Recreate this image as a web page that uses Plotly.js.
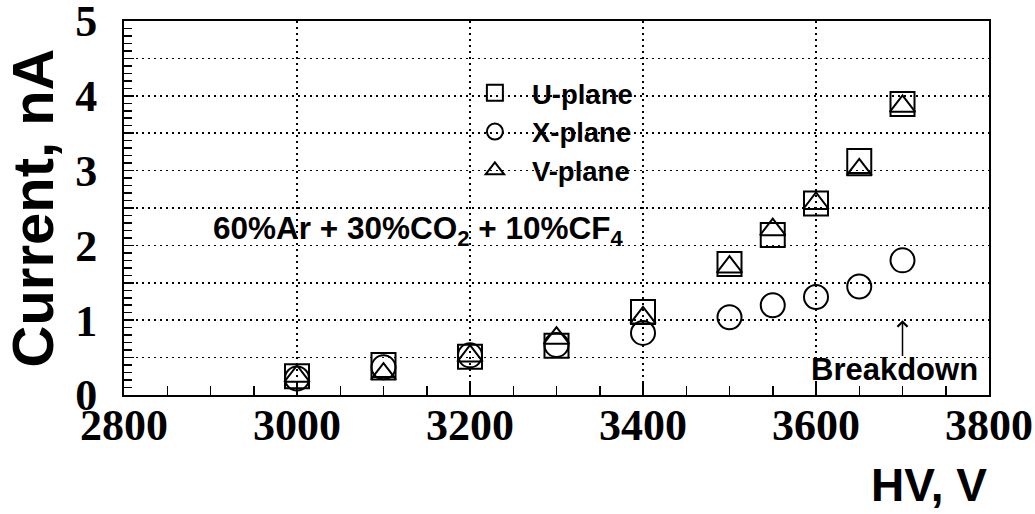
<!DOCTYPE html>
<html>
<head>
<meta charset="utf-8">
<script src="https://cdn.plot.ly/plotly-3.0.1.min.js"></script>
<style>html,body{margin:0;padding:0;background:#fff;}#plot{width:1035px;height:514px;}</style>
</head>
<body>
<div id="plot"></div>
<script>
// Data
const hv = [3000, 3100, 3200, 3300, 3400, 3500, 3550, 3600, 3650, 3700];
const uPlane = [0.25, 0.40, 0.51, 0.66, 1.11, 1.75, 2.14, 2.56, 3.13, 3.89];
const xPlane = [0.22, 0.37, 0.53, 0.67, 0.83, 1.04, 1.20, 1.31, 1.45, 1.80];
const vPlane = [0.25, 0.28, 0.52, 0.76, 1.03, 1.71, 2.21, 2.56, 3.01, 3.86];
const seriesNames = ["U-plane", "X-plane", "V-plane"];
const yTickVals = [0, 0.5, 1, 1.5, 2, 2.5, 3, 3.5, 4, 4.5, 5];
const yTickText = ["0", "", "1", "", "2", "", "3", "", "4", "", "5"];
const xTickVals = [2800, 3000, 3200, 3400, 3600, 3800];
const gasLabel = "60%Ar + 30%CO<sub>2</sub> + 10%CF<sub>4</sub>";
const breakdownHV = 3700;

const sans = "Liberation Sans, Arial, sans-serif";
const serif = "Liberation Serif, Times New Roman, serif";

function mk(sym, size) {
  return {symbol: sym, size: size, color: "#000", line: {color: "#000", width: 2}};
}

const traces = [
  {x: hv, y: uPlane, name: seriesNames[0], mode: "markers", type: "scatter", marker: mk("square-open", 24)},
  {x: hv, y: xPlane, name: seriesNames[1], mode: "markers", type: "scatter", marker: mk("circle-open", 24)},
  {x: hv, y: vPlane, name: seriesNames[2], mode: "markers", type: "scatter", marker: mk("triangle-up-open", 22)}
];

const gridStyle = {showgrid: true, gridcolor: "#000", gridwidth: 1.5, griddash: "2px,4px"};

const layout = {
  width: 1035, height: 514,
  margin: {l: 124, r: 46, t: 21, b: 119, pad: 0},
  paper_bgcolor: "#fff", plot_bgcolor: "#fff",
  showlegend: true,
  legend: {
    x: 0.386, y: 0.873, xanchor: "left", yanchor: "top",
    bgcolor: "rgba(0,0,0,0)", borderwidth: 0,
    font: {family: sans, size: 27.5, color: "#000", weight: "bold"},
    itemsizing: "trace", itemwidth: 64
  },
  xaxis: Object.assign({
    range: [2800, 3800], tickmode: "array", tickvals: xTickVals,
    ticks: "inside", ticklen: 13, tickwidth: 1.5, tickcolor: "#000",
    showline: true, linecolor: "#000", linewidth: 2, mirror: true,
    zeroline: false,
    tickfont: {family: serif, size: 44, color: "#000", weight: "bold"},
    ticklabelstandoff: -10, ticklabeloverflow: "allow",
    minor: {tickmode: "linear", tick0: 2800, dtick: 50, ticks: "inside", ticklen: 9, tickwidth: 1.5, tickcolor: "#000", showgrid: false}
  }, gridStyle),
  yaxis: Object.assign({
    range: [0, 5], tickmode: "array", tickvals: yTickVals, ticktext: yTickText,
    ticks: "inside", ticklen: 10, tickwidth: 1.5, tickcolor: "#000",
    showline: true, linecolor: "#000", linewidth: 2, mirror: true,
    zeroline: false,
    tickfont: {family: serif, size: 44, color: "#000", weight: "bold"},
    ticklabelstandoff: 16, ticklabeloverflow: "allow",
    title: {text: "Current, nA", font: {family: sans, size: 58, color: "#000", weight: "bold"}, standoff: 12},
    minor: {tickmode: "linear", tick0: 0, dtick: 0.1, ticks: "inside", ticklen: 8, tickwidth: 1.5, tickcolor: "#000", showgrid: false}
  }, gridStyle),
  annotations: [
    {text: "HV, V", xref: "paper", yref: "paper", x: 1, y: -0.165, xanchor: "right", yanchor: "top",
     showarrow: false, font: {family: sans, size: 46, color: "#000", weight: "bold"}},
    {text: gasLabel, xref: "x", yref: "y", x: 2901, y: 2.0, xanchor: "left", yanchor: "bottom", yshift: -8,
     showarrow: false, font: {family: sans, size: 31.5, color: "#000", weight: "bold"}},
    {text: "Breakdown", xref: "x", yref: "y", x: 3592, y: 0.2, xanchor: "left", yanchor: "bottom", yshift: -9,
     showarrow: false, font: {family: sans, size: 31, color: "#000", weight: "bold"}},
    {text: "", xref: "x", yref: "y", x: breakdownHV, y: 1.0, axref: "x", ayref: "y", ax: breakdownHV, ay: 0.5,
     showarrow: true, arrowhead: 4, arrowsize: 1.3, arrowwidth: 1.5, arrowcolor: "#000"}
  ]
};

Plotly.newPlot("plot", traces, layout, {staticPlot: true});
</script>
</body>
</html>
